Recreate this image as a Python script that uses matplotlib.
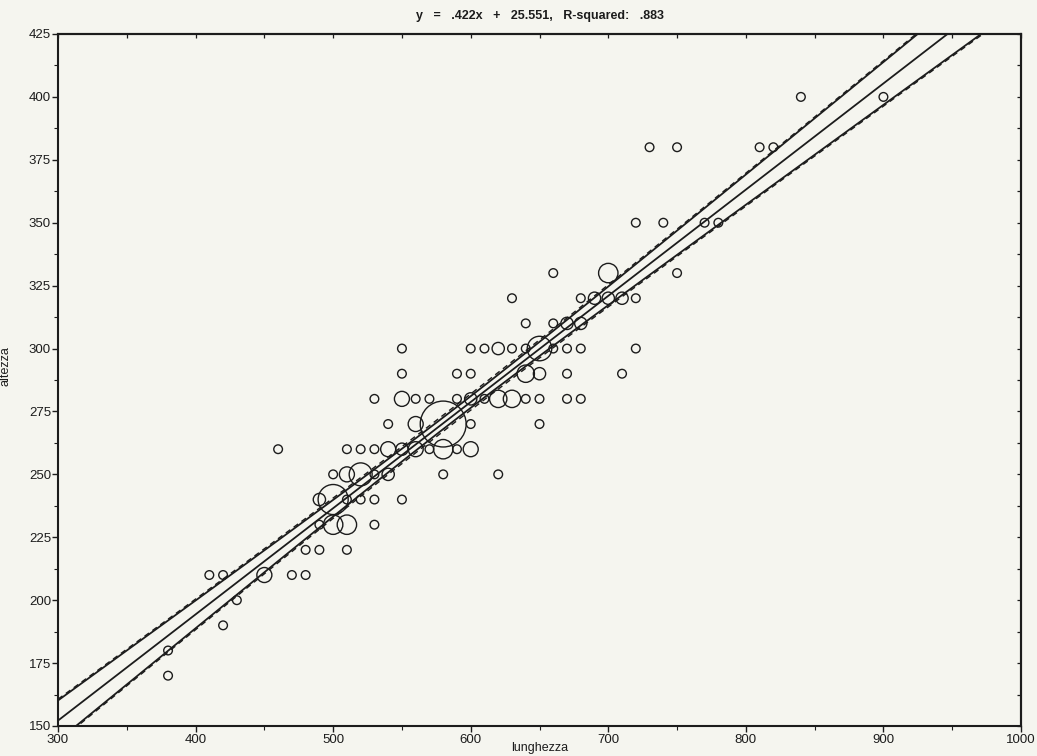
import numpy as np
import matplotlib.pyplot as plt
from matplotlib.ticker import MultipleLocator

# -*- data (x = lunghezza, y = altezza, n = coincident points)
x_vals = [380, 380, 420, 430,
          410, 420, 450, 470, 480,
          480, 490, 510,
          490, 500, 510, 530,
          490, 500, 510, 520, 530, 550,
          500, 510, 520, 530, 540, 580, 620,
          460, 510, 520, 530, 540, 550, 560, 570, 580, 590, 600,
          540, 560, 580, 600, 650,
          530, 550, 560, 570, 590, 600, 610, 620, 630, 640, 650, 670, 680,
          550, 590, 600, 640, 650, 670, 710,
          550, 600, 610, 620, 630, 640, 650, 660, 670, 680, 720,
          640, 660, 670, 680,
          630, 680, 690, 700, 710, 720,
          660, 700, 750,
          720, 740, 770, 780,
          730, 750, 810, 820,
          840, 900]
y_vals = [170, 180, 190, 200,
          210, 210, 210, 210, 210,
          220, 220, 220,
          230, 230, 230, 230,
          240, 240, 240, 240, 240, 240,
          250, 250, 250, 250, 250, 250, 250,
          260, 260, 260, 260, 260, 260, 260, 260, 260, 260, 260,
          270, 270, 270, 270, 270,
          280, 280, 280, 280, 280, 280, 280, 280, 280, 280, 280, 280, 280,
          290, 290, 290, 290, 290, 290, 290,
          300, 300, 300, 300, 300, 300, 300, 300, 300, 300, 300,
          310, 310, 310, 310,
          320, 320, 320, 320, 320, 320,
          330, 330, 330,
          350, 350, 350, 350,
          380, 380, 380, 380,
          400, 400]
n_vals = [1, 1, 1, 1,
          1, 1, 3, 1, 1,
          1, 1, 1,
          1, 5, 5, 1,
          2, 12, 1, 1, 1, 1,
          1, 3, 7, 1, 2, 1, 1,
          1, 1, 1, 1, 3, 2, 3, 1, 5, 1, 3,
          1, 3, 28, 1, 1,
          1, 3, 1, 1, 1, 2, 1, 4, 4, 1, 1, 1, 1,
          1, 1, 1, 4, 2, 1, 1,
          1, 1, 1, 2, 1, 1, 8, 1, 1, 1, 1,
          1, 1, 2, 2,
          1, 1, 2, 2, 2, 1,
          1, 5, 1,
          1, 1, 1, 1,
          1, 1, 1, 1,
          1, 1]

# regression from the title, band shape
slope, intercept = 0.422, 25.551
x_center = 590
conf_a, conf_b = 2.3, 0.0264     # solid bands
mean_a, mean_b = 3.2, 0.0272     # dashed bands

ink = "#1c1c1c"
paper = "#f5f5ef"

plt.rcParams["font.family"] = ["Liberation Sans", "DejaVu Sans"]

fig = plt.figure(figsize=(10.37, 7.56), dpi=100, facecolor=paper)
ax = fig.add_axes([58 / 1037, 1 - 726 / 756, (1021 - 58) / 1037, (726 - 34) / 756])
ax.set_facecolor(paper)

xs = np.linspace(300, 1000, 400)
fit = slope * xs + intercept
w_conf = np.sqrt(conf_a ** 2 + (conf_b * (xs - x_center)) ** 2)
w_mean = np.sqrt(mean_a ** 2 + (mean_b * (xs - x_center)) ** 2)

ax.plot(xs, fit, color=ink, lw=1.3)
ax.plot(xs, fit + w_conf, color=ink, lw=1.3)
ax.plot(xs, fit - w_conf, color=ink, lw=1.3)
ax.plot(xs, fit + w_mean, color=ink, lw=1.0, ls=(0, (4, 3)))
ax.plot(xs, fit - w_mean, color=ink, lw=1.0, ls=(0, (4, 3)))

ax.scatter(x_vals, y_vals, s=39 * np.array(n_vals), facecolors="none",
           edgecolors=ink, linewidths=1.0, zorder=3)

ax.set_xlim(300, 1000)
ax.set_ylim(150, 425)
ax.xaxis.set_major_locator(MultipleLocator(100))
ax.xaxis.set_minor_locator(MultipleLocator(50))
ax.yaxis.set_major_locator(MultipleLocator(25))
ax.yaxis.set_minor_locator(MultipleLocator(12.5))

for sp in ax.spines.values():
    sp.set_color(ink)
    sp.set_linewidth(1.5)

ax.tick_params(which="both", direction="out", colors=ink, labelsize=9.5, pad=2)
ax.tick_params(which="major", length=4, width=1.0)
ax.tick_params(which="minor", length=3, width=0.8)
ax.tick_params(axis="y", pad=1)

top = ax.secondary_xaxis("top")
top.xaxis.set_major_locator(MultipleLocator(50))
top.tick_params(direction="in", length=3, width=0.9, colors=ink, labeltop=False)
top.spines["top"].set_linewidth(1.5)
right = ax.secondary_yaxis("right")
right.yaxis.set_major_locator(MultipleLocator(12.5))
right.tick_params(direction="in", length=3, width=0.9, colors=ink, labelright=False)
right.spines["right"].set_linewidth(1.5)

ax.set_xlabel("lunghezza", fontsize=9, color=ink, labelpad=-3)
ax.set_ylabel("altezza", fontsize=9, color=ink)
ax.yaxis.set_label_coords(-46 / 963, 0.52)
ax.set_title("y   =   .422x   +   25.551,   R-squared:   .883", fontsize=9,
             fontweight="bold", color=ink, pad=11)

fig.savefig("out.png", dpi=100, facecolor=paper)
